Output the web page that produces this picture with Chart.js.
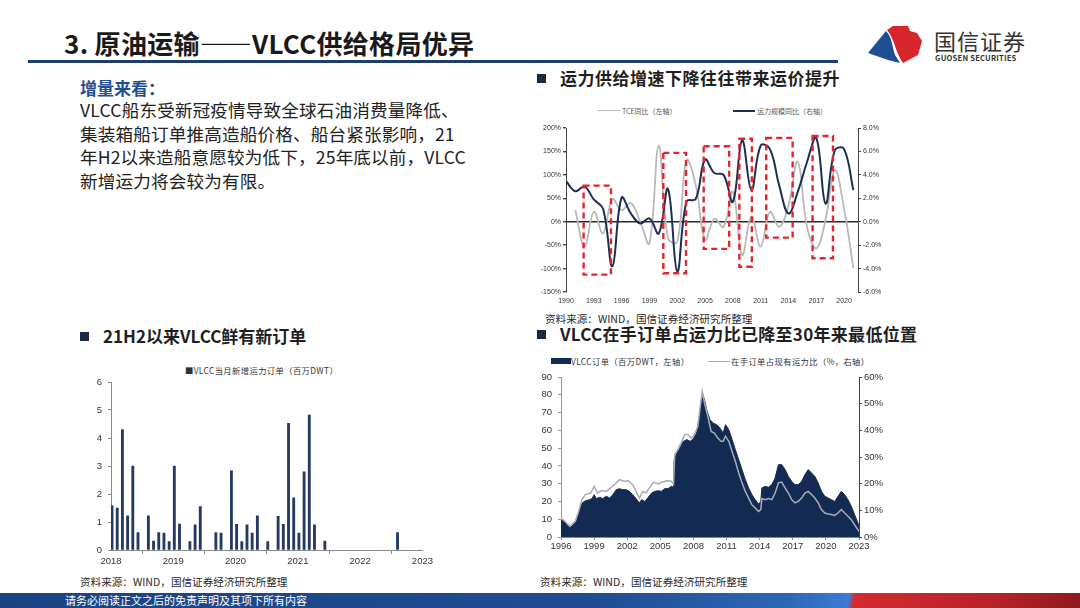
<!DOCTYPE html>
<html lang="zh-CN">
<head>
<meta charset="utf-8">
<title>原油运输——VLCC供给格局优异</title>
<script src="https://cdn.jsdelivr.net/npm/chart.js@4.4.1/dist/chart.umd.min.js"></script>
<style>
html, body { margin: 0; padding: 0; background: #fff; }
body { width: 1080px; height: 608px; position: relative; overflow: hidden;
       font-family: "Noto Sans CJK SC", "Noto Sans", sans-serif; color: #222; }
.abs { position: absolute; white-space: nowrap; }
.title { left: 64px; top: 24px; font-size: 26px; font-weight: bold; color: #1a1a1a; letter-spacing: 0.3px; }
.rule { left: 28px; top: 60px; width: 810px; height: 3px; background: #1d3d6e; }
.lead { left: 80px; top: 75px; font-size: 17px; font-weight: bold; color: #1e4f93; }
.body { left: 80px; top: 98px; font-size: 17.6px; line-height: 23.6px; color: #222; letter-spacing: 0.15px; }
.head { font-size: 17px; font-weight: bold; color: #1f1f1f; letter-spacing: 0.5px; }
.head i { display: inline-block; width: 9px; height: 9px; background: #1c2a44; margin-right: 14px; vertical-align: 2px; }
.src { font-size: 10.6px; color: #2a2a2a; }
.lg { font-size: 7px; color: #555; }
.lg2 { font-size: 8.3px; color: #333; letter-spacing: 0.4px; }
.footer { left: 0; top: 593px; width: 1080px; height: 15px;
          background: linear-gradient(100deg, #1b4384 0%, #1f4c92 55%, #2c68b6 73%, #3b7bd0 78.5%, #d42a30 79%, #b82227 92%, #8e1a1e 100%); }
.footer span { position: absolute; left: 65px; top: 0; font-size: 11px; line-height: 15px; color: #fff; }
canvas { position: absolute; }
</style>
</head>
<body>

<div class="abs title">3. 原油运输——VLCC供给格局优异</div>
<div class="abs rule"></div>

<svg class="abs" style="left:856px;top:22px" width="70" height="44" viewBox="0 0 70 44">
  <path d="M12 31 L30 9 C36 15 36 24 39 33 L44 41 L32 38 Z" fill="#1f4f92"/>
  <path d="M31 8 L37 4 L52 4 L54 9 L61 11 L66 19 L62 33 L47 41 C43 35 41 30 39 24 C37 18 35 13 31 8 Z" fill="#d9262d"/>
</svg>
<div class="abs" style="left:934px;top:24px;font-size:22px;color:#333;letter-spacing:1px;">国信证券</div>
<div class="abs" style="left:935px;top:52px;font-size:7.6px;font-weight:bold;color:#333;letter-spacing:0.2px;">GUOSEN SECURITIES</div>

<div class="abs lead">增量来看：</div>
<div class="abs body">VLCC船东受新冠疫情导致全球石油消费量降低、<br>集装箱船订单推高造船价格、船台紧张影响，21<br>年H2以来造船意愿较为低下，25年底以前，VLCC<br>新增运力将会较为有限。</div>

<div class="abs head" style="left:537px;top:65px;"><i></i>运力供给增速下降往往带来运价提升</div>
<div class="abs head" style="left:80px;top:323px;letter-spacing:0;"><i></i>21H2以来VLCC鲜有新订单</div>
<div class="abs head" style="left:537px;top:321px;letter-spacing:0.3px;"><i></i>VLCC在手订单占运力比已降至30年来最低位置</div>

<!-- legends -->
<div class="abs" style="left:598px;top:110px;width:22px;height:0;border-top:1.6px solid #b9b9b9;"></div>
<div class="abs lg" style="left:622px;top:106px;">TCE同比（左轴）</div>
<div class="abs" style="left:733px;top:110px;width:22px;height:0;border-top:2px solid #1b2f52;"></div>
<div class="abs lg" style="left:757px;top:106px;">运力规模同比（右轴）</div>

<div class="abs lg2" style="left:185px;top:364px;">■VLCC当月新增运力订单（百万DWT）</div>

<div class="abs" style="left:551px;top:358px;width:20px;height:6px;background:#132a52;"></div>
<div class="abs lg2" style="left:571px;top:355px;">VLCC订单（百万DWT，左轴）</div>
<div class="abs" style="left:708px;top:360.5px;width:22px;height:0;border-top:1.5px solid #a7adb8;"></div>
<div class="abs lg2" style="left:731px;top:355px;">在手订单占现有运力比（%，右轴）</div>

<canvas id="growthChart" width="355" height="215" style="left:530px;top:95px;"></canvas>
<canvas id="orderChart" width="360" height="215" style="left:75px;top:355px;"></canvas>
<canvas id="backlogChart" width="360" height="210" style="left:525px;top:345px;"></canvas>

<div class="abs src" style="left:545px;top:311px;">资料来源：WIND，国信证券经济研究所整理</div>
<div class="abs src" style="left:80px;top:574px;">资料来源：WIND，国信证券经济研究所整理</div>
<div class="abs src" style="left:540px;top:574px;">资料来源：WIND，国信证券经济研究所整理</div>

<div class="abs footer"><span>请务必阅读正文之后的免责声明及其项下所有内容</span></div>

<script>
"use strict";

// ---- chart 1: TCE vs fleet growth (annual) ----
var growthYears = [1990, 1991, 1992, 1993, 1994, 1995, 1996, 1997, 1998, 1999, 2000,
                   2001, 2002, 2003, 2004, 2005, 2006, 2007, 2008, 2009, 2010,
                   2011, 2012, 2013, 2014, 2015, 2016, 2017, 2018, 2019, 2020, 2021];
var tceGrowth   = [null, 25, -53, 21, -25, 48, 25, 40, 0, -46, 162,
                   -35, -43, 131, 78, -39, 6, -11, 64, -71, 11,
                   -53, 21, -11, 35, 128, -11, -57, 4, 110, 28, -99];
var fleetGrowth = [3.46, 2.6, 3.0, 1.9, 1.1, -3.8, 2.05, 0.7, -0.15, 0.28, -1.0,
                   2.8, -4.25, 1.72, 1.95, 5.3, 4.15, 4.0, 1.7, 6.95, 2.7,
                   6.5, 6.2, 3.1, 0.7, 2.55, 5.1, 7.15, 1.55, 6.1, 6.2, 2.7];
var growthTickYears = [1990, 1993, 1996, 1999, 2002, 2005, 2008, 2011, 2014, 2017, 2020];
// red dashed highlight boxes: [fromYear, toYear, low %, high %] on the left axis
var highlightPeriods = [
    [1991.9, 1994.85, -113, 77],
    [2000.5, 2002.95, -110, 147],
    [2004.85, 2007.6, -58, 161],
    [2008.7, 2010.05, -96, 177],
    [2011.6, 2014.45, -34, 179],
    [2016.6, 2018.8, -78, 183]
];

// ---- chart 2: monthly new VLCC orders (million DWT) ----
var orderMonths = ["2018-01", "2018-02", "2018-03", "2018-04", "2018-05", "2018-06", "2018-08",
                   "2018-09", "2018-10", "2018-11", "2018-12", "2019-01", "2019-02", "2019-04",
                   "2019-05", "2019-06", "2019-09", "2019-10", "2019-12", "2020-01", "2020-02",
                   "2020-03", "2020-04", "2020-05", "2020-07", "2020-09", "2020-10", "2020-11",
                   "2020-12", "2021-01", "2021-02", "2021-03", "2021-04", "2021-06", "2022-08"];
var orderValues = [1.58, 1.5, 4.3, 1.22, 3.0, 0.62, 1.22,
                   0.32, 0.62, 0.6, 0.3, 3.0, 0.93, 0.3,
                   0.9, 1.55, 0.62, 0.6, 2.83, 0.92, 0.3,
                   0.9, 0.6, 1.22, 0.3, 1.2, 0.92, 4.52,
                   1.86, 0.6, 2.79, 4.82, 0.9, 0.32, 0.62];
var orderYearLabels = ["2018", "2019", "2020", "2021", "2022", "2023"];

// ---- chart 3: VLCC orderbook (million DWT) and orderbook / fleet ratio (%) ----
var backlogDates = [1996.0, 1996.3, 1996.6, 1996.8, 1997.0, 1997.3, 1997.6, 1997.9, 1998.2, 1998.5,
                    1998.8, 1999.0, 1999.2, 1999.5, 1999.8, 2000.1, 2000.4, 2000.7, 2001.0, 2001.3,
                    2001.6, 2001.9, 2002.2, 2002.5, 2002.8, 2003.1, 2003.3, 2003.6, 2003.9, 2004.2,
                    2004.5, 2004.8, 2005.1, 2005.4, 2005.7, 2006.0, 2006.2, 2006.25, 2006.5, 2006.8,
                    2007.1, 2007.4, 2007.7, 2008.0, 2008.3, 2008.6, 2008.8, 2009.0, 2009.2, 2009.5,
                    2009.8, 2010.1, 2010.4, 2010.7, 2010.9, 2011.2, 2011.5, 2011.8, 2012.1, 2012.4,
                    2012.7, 2013.0, 2013.3, 2013.6, 2013.9, 2014.1, 2014.2, 2014.5, 2014.8, 2015.1,
                    2015.4, 2015.7, 2016.0, 2016.3, 2016.6, 2016.9, 2017.2, 2017.5, 2017.8, 2018.1,
                    2018.4, 2018.7, 2019.0, 2019.3, 2019.6, 2019.9, 2020.2, 2020.5, 2020.8, 2021.1,
                    2021.4, 2021.7, 2022.0, 2022.3, 2022.6, 2022.9, 2023.0];
var backlogDwt   = [9.7, 8.8, 7.0, 6.0, 6.0, 8.8, 13.5, 19.0, 20.4, 20.8,
                    21.5, 23.8, 21.6, 22.3, 21.6, 22.9, 22.0, 23.8, 26.6, 27.2,
                    26.6, 26.6, 25.7, 23.8, 21.6, 19.1, 21.0, 20.0, 22.3, 24.7,
                    25.7, 26.0, 25.7, 27.2, 27.2, 28.5, 28.0, 43.5, 47.3, 52.0,
                    53.8, 54.8, 53.8, 55.3, 59.4, 70.7, 81.0, 77.3, 71.6, 66.0,
                    64.0, 63.2, 61.3, 58.5, 63.2, 60.4, 54.8, 49.1, 43.5, 37.9,
                    32.3, 27.6, 23.8, 21.0, 18.6, 20.0, 27.6, 28.5, 28.0, 29.4,
                    33.2, 40.7, 40.7, 37.9, 34.1, 31.3, 29.4, 29.4, 31.3, 35.0,
                    37.9, 36.0, 34.1, 30.4, 25.7, 22.9, 22.0, 21.0, 20.0, 22.9,
                    25.7, 23.8, 21.0, 17.3, 12.6, 7.9, 6.5];
var ratioDates = [1996.0, 1996.3, 1996.8, 1997.3, 1997.6, 1997.9, 1998.2, 1998.7, 1999.0, 1999.3,
                  1999.7, 2000.1, 2000.5, 2000.9, 2001.3, 2001.7, 2002.1, 2002.5, 2002.8, 2003.1,
                  2003.4, 2003.7, 2004.0, 2004.4, 2004.8, 2005.2, 2005.6, 2006.0, 2006.2, 2006.3,
                  2006.6, 2006.9, 2007.2, 2007.5, 2007.8, 2008.1, 2008.4, 2008.6, 2008.8, 2009.0,
                  2009.3, 2009.6, 2009.9, 2010.2, 2010.5, 2010.7, 2010.9, 2011.2, 2011.5, 2011.8,
                  2012.1, 2012.4, 2012.7, 2013.0, 2013.3, 2013.6, 2013.9, 2014.1, 2014.2, 2014.5,
                  2014.8, 2015.1, 2015.4, 2015.7, 2016.0, 2016.3, 2016.6, 2016.9, 2017.2, 2017.5,
                  2017.8, 2018.1, 2018.4, 2018.7, 2019.0, 2019.3, 2019.6, 2019.9, 2020.2, 2020.5,
                  2020.8, 2021.1, 2021.4, 2021.7, 2022.0, 2022.3, 2022.6, 2022.9, 2023.0];
var ratioPct   = [6.9, 6.1, 4.0, 5.9, 9.6, 14.0, 15.9, 16.5, 19.0, 16.5,
                  17.4, 17.1, 18.4, 19.9, 21.5, 20.9, 21.1, 19.6, 17.1, 14.6,
                  17.1, 16.5, 18.4, 20.6, 19.9, 20.6, 21.1, 20.9, 19.9, 30.9,
                  32.8, 35.3, 38.4, 38.4, 37.1, 38.4, 41.5, 48.4, 54.6, 50.3,
                  45.3, 39.6, 39.0, 37.1, 35.9, 35.9, 37.8, 35.9, 32.1, 28.4,
                  24.0, 20.3, 17.1, 14.6, 12.1, 10.9, 9.6, 10.3, 14.4, 14.0,
                  14.4, 14.0, 16.5, 20.3, 20.6, 18.4, 16.5, 14.0, 12.8, 13.4,
                  14.6, 16.5, 17.1, 15.9, 14.6, 12.8, 10.3, 9.0, 8.6, 8.4,
                  8.1, 9.0, 10.3, 9.0, 7.8, 6.5, 4.6, 2.8, 2.1];
var backlogTickYears = [1996, 1999, 2002, 2005, 2008, 2011, 2014, 2017, 2020, 2023];

var tickFont = { family: "'Liberation Sans', Arial, sans-serif", size: 9.5 };
var tickColor = "#333";

function pairs(xs, ys)
{
    var out = [];
    for (var i = 0; i < xs.length; i++)
    {
        out.push({ x: xs[i], y: ys[i] });
    }
    return out;
}

function fixWidth(w) { return function (s) { s.width = w; }; }
function fixHeight(h) { return function (s) { s.height = h; }; }

// draws the red dashed boxes through the chart's scales
var highlightBoxes = {
    id: "highlightBoxes",
    afterDatasetsDraw: function (chart)
    {
        var ctx = chart.ctx, x = chart.scales.x, y = chart.scales.y;
        ctx.save();
        ctx.strokeStyle = "#e1272d";
        ctx.lineWidth = 2.4;
        ctx.setLineDash([6, 4]);
        highlightPeriods.forEach(function (b)
        {
            var l = x.getPixelForValue(b[0]), r = x.getPixelForValue(b[1]);
            var t = y.getPixelForValue(b[3]), btm = y.getPixelForValue(b[2]);
            ctx.strokeRect(l, t, r - l, btm - t);
        });
        ctx.restore();
    }
};

new Chart(document.getElementById("growthChart"), {
    type: "line",
    data: {
        datasets: [
            {
                label: "运力规模同比（右轴）",
                data: pairs(growthYears, fleetGrowth),
                yAxisID: "y1",
                borderColor: "#1b2f52",
                borderWidth: 2,
                pointRadius: 0,
                tension: 0.4
            },
            {
                label: "TCE同比（左轴）",
                data: pairs(growthYears, tceGrowth),
                yAxisID: "y",
                borderColor: "#b9b9b9",
                borderWidth: 1.8,
                pointRadius: 0,
                tension: 0.4,
                spanGaps: false
            }
        ]
    },
    options: {
        responsive: false,
        animation: false,
        layout: { padding: { top: 33, left: 0, right: 0, bottom: 0 } },
        plugins: { legend: { display: false }, tooltip: { enabled: false } },
        scales: {
            x: {
                type: "linear",
                min: 1990,
                max: 2021.5,
                afterBuildTicks: function (s) { s.ticks = growthTickYears.map(function (v) { return { value: v }; }); },
                afterFit: fixHeight(18),
                grid: { display: false, drawTicks: false },
                border: { display: false },
                ticks: { padding: 5, maxRotation: 0, autoSkip: false, color: tickColor,
                         font: { family: tickFont.family, size: 7 },
                         callback: function (v) { return String(v); } }
            },
            y: {
                position: "left",
                min: -150,
                max: 200,
                afterFit: fixWidth(36),
                ticks: { stepSize: 50, color: tickColor, padding: 2,
                         font: { family: tickFont.family, size: 7 },
                         callback: function (v) { return v + "%"; } },
                grid: {
                    drawOnChartArea: true,
                    tickLength: 3,
                    tickColor: "#444",
                    color: function (c) { return c.tick && c.tick.value === 0 ? "#2a2a2a" : "rgba(0,0,0,0)"; },
                    lineWidth: 1.4
                },
                border: { display: true, color: "#444", width: 1 }
            },
            y1: {
                position: "right",
                min: -6,
                max: 8,
                afterFit: fixWidth(27),
                ticks: { stepSize: 2, color: tickColor, padding: 2,
                         font: { family: tickFont.family, size: 7 },
                         callback: function (v) { return v.toFixed(1) + "%"; } },
                grid: { drawOnChartArea: false, tickLength: 3, color: "#444" },
                border: { display: true, color: "#444", width: 1 }
            }
        }
    },
    plugins: [highlightBoxes]
});

var orderPoints = orderMonths.map(function (m, i)
{
    var parts = m.split("-");
    return { x: (parseInt(parts[0], 10) - 2018) * 12 + parseInt(parts[1], 10) - 1 + 0.2, y: orderValues[i] };
});

new Chart(document.getElementById("orderChart"), {
    type: "bar",
    data: {
        datasets: [
            {
                label: "VLCC当月新增运力订单（百万DWT）",
                data: orderPoints,
                backgroundColor: "#243a63",
                barThickness: 2.2,
                grouped: false
            }
        ]
    },
    options: {
        responsive: false,
        animation: false,
        layout: { padding: { top: 27, left: 0, right: 12, bottom: 0 } },
        plugins: { legend: { display: false }, tooltip: { enabled: false } },
        scales: {
            x: {
                type: "linear",
                min: 0,
                max: 60,
                offset: false,
                afterBuildTicks: function (s) { s.ticks = orderYearLabels.map(function (l, i) { return { value: i * 12 }; }); },
                afterFit: fixHeight(20),
                grid: { drawOnChartArea: false, tickLength: 4, color: "#888" },
                border: { display: true, color: "#888" },
                ticks: { padding: 2, maxRotation: 0, autoSkip: false, color: tickColor, font: tickFont,
                         callback: function (v, i) { return orderYearLabels[i]; } }
            },
            y: {
                min: 0,
                max: 6,
                afterFit: fixWidth(36),
                ticks: { stepSize: 1, color: tickColor, padding: 6, font: tickFont },
                grid: { drawOnChartArea: false, tickLength: 3, color: "#888" },
                border: { display: true, color: "#888" }
            }
        }
    }
});

new Chart(document.getElementById("backlogChart"), {
    type: "line",
    data: {
        datasets: [
            {
                label: "在手订单占现有运力比（%，右轴）",
                data: pairs(ratioDates, ratioPct),
                yAxisID: "y1",
                borderColor: "#a7adb8",
                borderWidth: 1.5,
                pointRadius: 0,
                tension: 0,
                order: 0
            },
            {
                label: "VLCC订单（百万DWT，左轴）",
                data: pairs(backlogDates, backlogDwt),
                yAxisID: "y",
                fill: "origin",
                backgroundColor: "#132a52",
                borderColor: "#132a52",
                borderWidth: 1,
                pointRadius: 0,
                tension: 0,
                order: 1
            }
        ]
    },
    options: {
        responsive: false,
        animation: false,
        layout: { padding: { top: 32, left: 0, right: 0, bottom: 0 } },
        plugins: { legend: { display: false }, tooltip: { enabled: false } },
        scales: {
            x: {
                type: "linear",
                min: 1996,
                max: 2023,
                afterBuildTicks: function (s) { s.ticks = backlogTickYears.map(function (v) { return { value: v }; }); },
                afterFit: fixHeight(18),
                grid: { drawOnChartArea: false, tickLength: 3, color: "#888" },
                border: { display: true, color: "#888" },
                ticks: { padding: 1, maxRotation: 0, autoSkip: false, color: tickColor, font: tickFont,
                         callback: function (v) { return String(v); } }
            },
            y: {
                position: "left",
                min: 0,
                max: 90,
                afterFit: fixWidth(36),
                ticks: { stepSize: 10, color: tickColor, padding: 6, font: tickFont },
                grid: { drawOnChartArea: false, tickLength: 3, color: "#999" },
                border: { display: true, color: "#999" }
            },
            y1: {
                position: "right",
                min: 0,
                max: 60,
                afterFit: fixWidth(26),
                ticks: { stepSize: 10, color: tickColor, padding: 2, font: tickFont,
                         callback: function (v) { return v + "%"; } },
                grid: { drawOnChartArea: false, tickLength: 3, color: "#444" },
                border: { display: true, color: "#444" }
            }
        }
    }
});
</script>
</body>
</html>
